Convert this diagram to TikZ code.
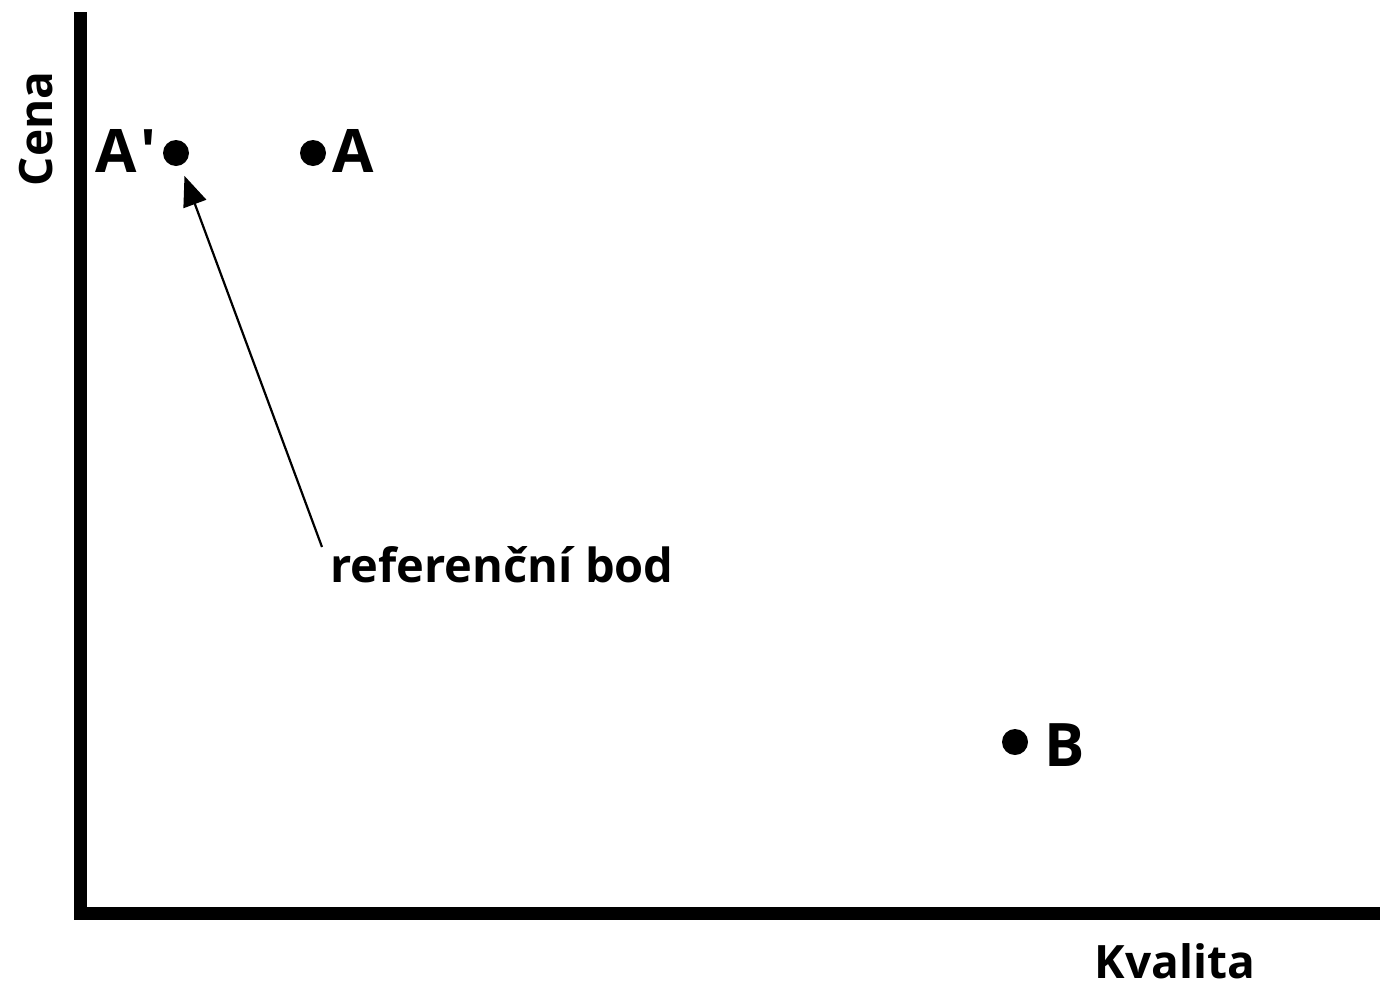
\documentclass[tikz,border=0pt]{standalone}
\usepackage{fontspec}
\newfontfamily\lab{Open Sans}
\usetikzlibrary{arrows.meta}
\tikzset{
  dot/.style={circle,fill=black,inner sep=0pt,minimum size=13pt},
  ptlabel/.style={font=\lab\bfseries\fontsize{30}{30}\selectfont,inner sep=0pt},
  axlabel/.style={font=\lab\bfseries\fontsize{23}{23}\selectfont,inner sep=0pt},
  axis/.style={line width=6.5pt,line join=miter},
  pointer/.style={line width=1.1pt,-{Triangle[length=15pt,width=12pt]},shorten >=5.5pt}
}
\begin{document}
\begin{tikzpicture}[x=0.5pt,y=-0.5pt]
\useasboundingbox (0,0) rectangle (1380,980);
\fill[white] (0,0) rectangle (1380,980);
\draw[axis] (80,12) -- (80,913) -- (1390,913);
\node[dot] (Ap) at (176,153) {};
\node[dot] (A) at (313,153) {};
\node[dot] (B) at (1015,742) {};
\node[ptlabel,anchor=base west] (ApL) at (95,172) {A\kern2pt'};
\node[ptlabel,anchor=base west] (AL) at (332,172) {A};
\node[ptlabel,anchor=base west] (BL) at (1044,766) {B};
\node[axlabel,anchor=base,rotate=90] (cena) at (52,129) {Cena};
\node[axlabel,anchor=base] (kval) at (1175,978) {Kvalita};
\node[font=\lab\bfseries\fontsize{23.5}{23.5}\selectfont,inner sep=0pt,anchor=base west] (ref) at (330,582) {referenční bod};
\coordinate (reftail) at (322,547);
\draw[pointer] (reftail) -- (Ap);
\end{tikzpicture}
\end{document}
